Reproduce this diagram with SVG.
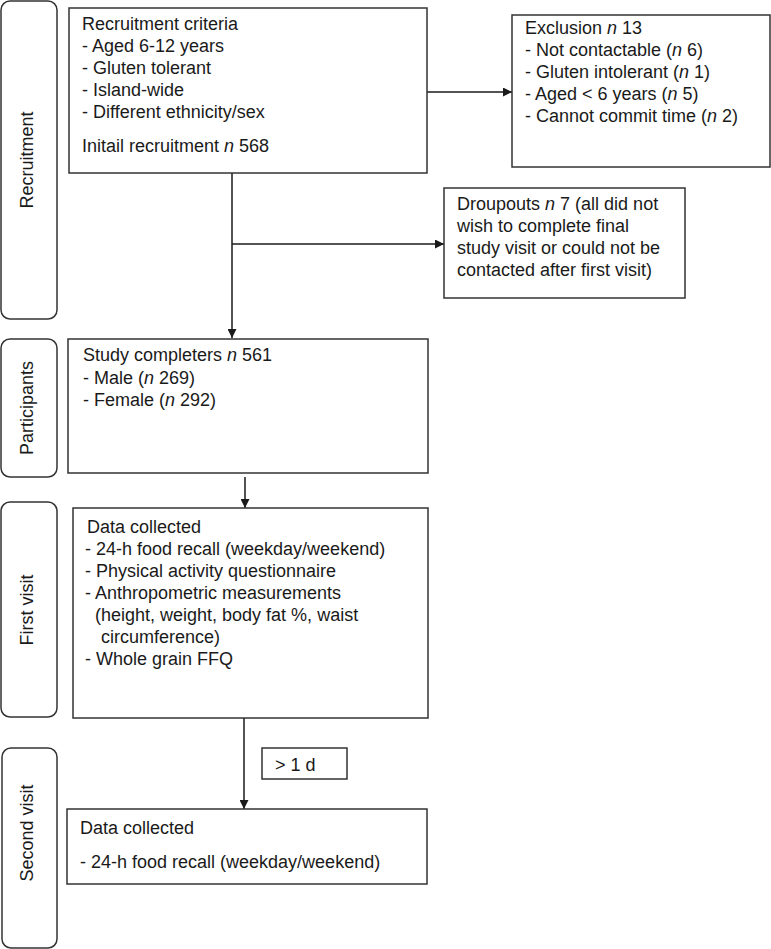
<svg xmlns="http://www.w3.org/2000/svg" width="771" height="949" viewBox="0 0 771 949">
<style>
  .box { fill: #ffffff; stroke: #333333; stroke-width: 1.5; }
  .lbl { fill: #ffffff; stroke: #333333; stroke-width: 1.5; }
  text { font-family: "Liberation Sans", Arial, Helvetica, sans-serif; font-size: 18px; fill: #1a1a1a; }
  .side { text-anchor: middle; dominant-baseline: central; }
  .it { font-style: italic; }
  .conn { stroke: #1a1a1a; stroke-width: 1.5; fill: none; }
</style>
<defs>
  <marker id="arr" viewBox="0 0 10 10" refX="10" refY="5" markerWidth="9" markerHeight="9" markerUnits="userSpaceOnUse" orient="auto">
    <path d="M0,0 L10,5 L0,10 Z" fill="#1a1a1a"/>
  </marker>
</defs>
<rect width="771" height="949" fill="#ffffff"/>

<g id="label-recruitment">
  <rect class="lbl" x="1" y="1" width="56" height="318" rx="9"/>
  <text class="side" transform="translate(27,160) rotate(-90)">Recruitment</text>
</g>
<g id="label-participants">
  <rect class="lbl" x="1" y="339" width="56" height="138" rx="9"/>
  <text class="side" transform="translate(27,408) rotate(-90)">Participants</text>
</g>
<g id="label-first-visit">
  <rect class="lbl" x="1" y="502" width="56" height="215" rx="9"/>
  <text class="side" transform="translate(27,610) rotate(-90)">First visit</text>
</g>
<g id="label-second-visit">
  <rect class="lbl" x="2" y="748" width="55" height="200" rx="9"/>
  <text class="side" transform="translate(27,833) rotate(-90)">Second visit</text>
</g>

<g id="connectors">
  <line class="conn" x1="232" y1="173" x2="232" y2="338" marker-end="url(#arr)"/>
  <line class="conn" x1="232" y1="244" x2="444" y2="244" marker-end="url(#arr)"/>
  <line class="conn" x1="427" y1="92" x2="512" y2="92" marker-end="url(#arr)"/>
  <line class="conn" x1="245" y1="477" x2="245" y2="508" marker-end="url(#arr)"/>
  <line class="conn" x1="244" y1="718" x2="244" y2="809" marker-end="url(#arr)"/>
</g>

<g id="recruitment-criteria">
  <rect class="box" x="69" y="8" width="358" height="165"/>
  <text x="82" y="30">Recruitment criteria</text>
  <text x="82" y="52">- Aged 6-12 years</text>
  <text x="82" y="74">- Gluten tolerant</text>
  <text x="82" y="96">- Island-wide</text>
  <text x="82" y="118">- Different ethnicity/sex</text>
  <text x="82" y="152">Initail recruitment <tspan class="it">n</tspan> 568</text>
</g>

<g id="exclusion">
  <rect class="box" x="512" y="15" width="258" height="152"/>
  <text x="525" y="34">Exclusion <tspan class="it">n</tspan> 13</text>
  <text x="525" y="56">- Not contactable (<tspan class="it">n</tspan> 6)</text>
  <text x="525" y="78">- Gluten intolerant (<tspan class="it">n</tspan> 1)</text>
  <text x="525" y="100">- Aged &lt; 6 years (<tspan class="it">n</tspan> 5)</text>
  <text x="525" y="122">- Cannot commit time (<tspan class="it">n</tspan> 2)</text>
</g>

<g id="dropouts">
  <rect class="box" x="444" y="188" width="241" height="110"/>
  <text x="457" y="210">Droupouts <tspan class="it">n</tspan> 7 (all did not</text>
  <text x="457" y="232">wish to complete final</text>
  <text x="457" y="254">study visit or could not be</text>
  <text x="457" y="276">contacted after first visit)</text>
</g>

<g id="study-completers">
  <rect class="box" x="68" y="339" width="360" height="134"/>
  <text x="83" y="361">Study completers <tspan class="it">n</tspan> 561</text>
  <text x="83" y="384">- Male (<tspan class="it">n</tspan> 269)</text>
  <text x="83" y="406">- Female (<tspan class="it">n</tspan> 292)</text>
</g>

<g id="first-visit-data">
  <rect class="box" x="73" y="508" width="355" height="210"/>
  <text x="87" y="533">Data collected</text>
  <text x="85" y="555">- 24-h food recall (weekday/weekend)</text>
  <text x="85" y="577">- Physical activity questionnaire</text>
  <text x="85" y="599">- Anthropometric measurements</text>
  <text x="95" y="621">(height, weight, body fat %, waist</text>
  <text x="101" y="643">circumference)</text>
  <text x="85" y="665">- Whole grain FFQ</text>
</g>

<g id="gap-label">
  <rect class="box" x="262" y="748" width="85" height="31"/>
  <text x="275" y="771">&gt; 1 d</text>
</g>

<g id="second-visit-data">
  <rect class="box" x="67" y="809" width="360" height="75"/>
  <text x="80" y="834">Data collected</text>
  <text x="80" y="868">- 24-h food recall (weekday/weekend)</text>
</g>
</svg>
